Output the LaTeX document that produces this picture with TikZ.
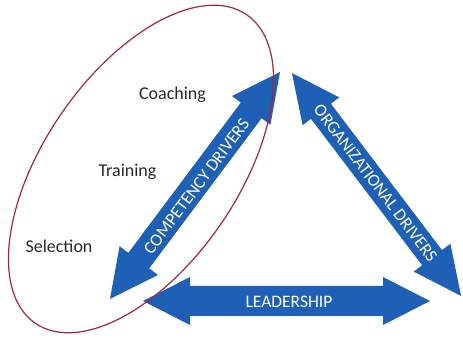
\documentclass[tikz,border=0pt]{standalone}
\usepackage{fontspec}
\setmainfont{Carlito}
\usetikzlibrary{shapes.geometric}
\definecolor{arrowblue}{RGB}{30,96,182}
\definecolor{ringred}{RGB}{168,36,56}
\definecolor{txtgray}{RGB}{40,40,40}
\newcommand\dblarr[7]{%
\begin{scope}[shift={(#1,#2)},rotate=#3]
\fill[arrowblue] ({-(#4)/2},0) -- ({-(#4)/2+#7},#6) -- ({-(#4)/2+#7},#5) -- ({(#4)/2-#7},#5) -- ({(#4)/2-#7},#6) -- ({(#4)/2},0) -- ({(#4)/2-#7},-#6) -- ({(#4)/2-#7},-#5) -- ({-(#4)/2+#7},-#5) -- ({-(#4)/2+#7},-#6) -- cycle;
\end{scope}}
\tikzset{
  arrlabel/.style={text=white, font=\fontsize{17.5}{20}\selectfont, inner sep=0pt},
  driver/.style={text=txtgray, font=\fontsize{18}{21}\selectfont, inner sep=0pt},
  ring/.style={draw=ringred, line width=1.2pt, ellipse, inner sep=0pt}
}
\begin{document}
\begin{tikzpicture}[x=1pt,y=1pt]
\useasboundingbox (0,0) rectangle (463,339);
% arrows
\dblarr{195}{153.5}{53.17}{283.6}{13}{24}{48}
\dblarr{376.5}{154.5}{-52.8}{279.8}{12.5}{23}{48}
\dblarr{286.5}{38}{0}{287}{15}{24}{47}
\node[arrlabel, rotate=53.17] (comp) at (196.5,152.5) {COMPETENCY DRIVERS};
\node[arrlabel, rotate=-52.8] (org) at (375.5,156) {ORGANIZATIONAL DRIVERS};
\node[arrlabel] (lead) at (289,37.5) {LEADERSHIP};
% drivers
\node[driver] (coach) at (172.5,244) {Coaching};
\node[driver] (train) at (127.5,167) {Training};
\node[driver] (sel) at (59,93) {Selection};
% ellipse
\node[ring, minimum width=374pt, minimum height=194pt, rotate=55.6] (grp) at (141,170) {};
\end{tikzpicture}
\end{document}
